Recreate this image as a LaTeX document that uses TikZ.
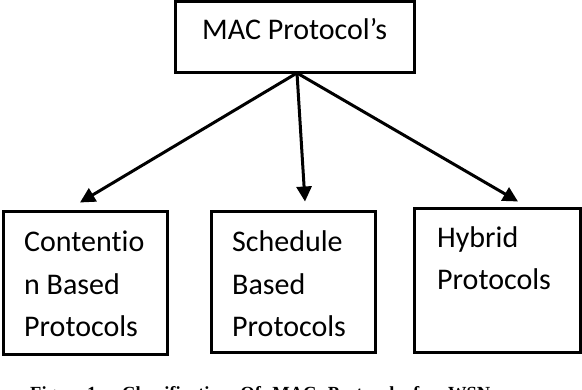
\documentclass[tikz,border=0pt]{standalone}
\usepackage{fontspec}
\setmainfont{Carlito}[Ligatures=NoCommon]
\newfontfamily\captionfont{Liberation Serif}
\usetikzlibrary{arrows.meta}
\begin{document}
\begin{tikzpicture}[x=1pt,y=-1pt,
  box/.style={draw=black, line width=3pt, rectangle, inner sep=0pt},
  % multi-line labels are placed by the baseline of their last line
  lbl/.style={inner sep=0pt, align=left, anchor=base west,
              font=\fontsize{30}{42.5}\selectfont},
  arr/.style={line width=3pt, -{Triangle[length=15pt,width=15pt]}}]
  \useasboundingbox (0,0) rectangle (582,390);
  \clip (0,0) rectangle (582,390);

  % boxes
  \node[box, minimum width=239pt, minimum height=71pt] (top) at (294.5,37.5) {};
  \node[box, minimum width=164pt, minimum height=143pt] (cont) at (85,283.5) {};
  \node[box, minimum width=164pt, minimum height=141pt] (sched) at (293,282.5) {};
  \node[box, minimum width=166pt, minimum height=144pt] (hyb) at (497,281) {};

  % box texts
  \node[lbl] (topT) at (202,40) {MAC Protocol’s};
  \node[lbl] (contT) at (24,337) {Contentio\\n Based\\Protocols};
  \node[lbl] (schedT) at (232,337) {Schedule\\Based\\Protocols};
  \node[lbl] (hybT) at (437,290) {Hybrid\\Protocols};

  % connectors
  \coordinate (apex) at (297,73);
  \draw[arr] (apex) -- ([xshift=-5pt,yshift=8pt]cont.north);
  \draw[arr] (apex) -- ([xshift=12pt,yshift=9pt]sched.north);
  \draw[arr] (apex) -- ([xshift=21pt,yshift=6pt]hyb.north);

  % caption (justified line)
  \node[inner sep=0pt, anchor=base west, font=\captionfont\bfseries\fontsize{18.5}{20}\selectfont]
    (cap) at (30,400) {\makebox[460pt][s]{Fig. 1: Classification Of MAC Protocols for WSN}};
\end{tikzpicture}
\end{document}
